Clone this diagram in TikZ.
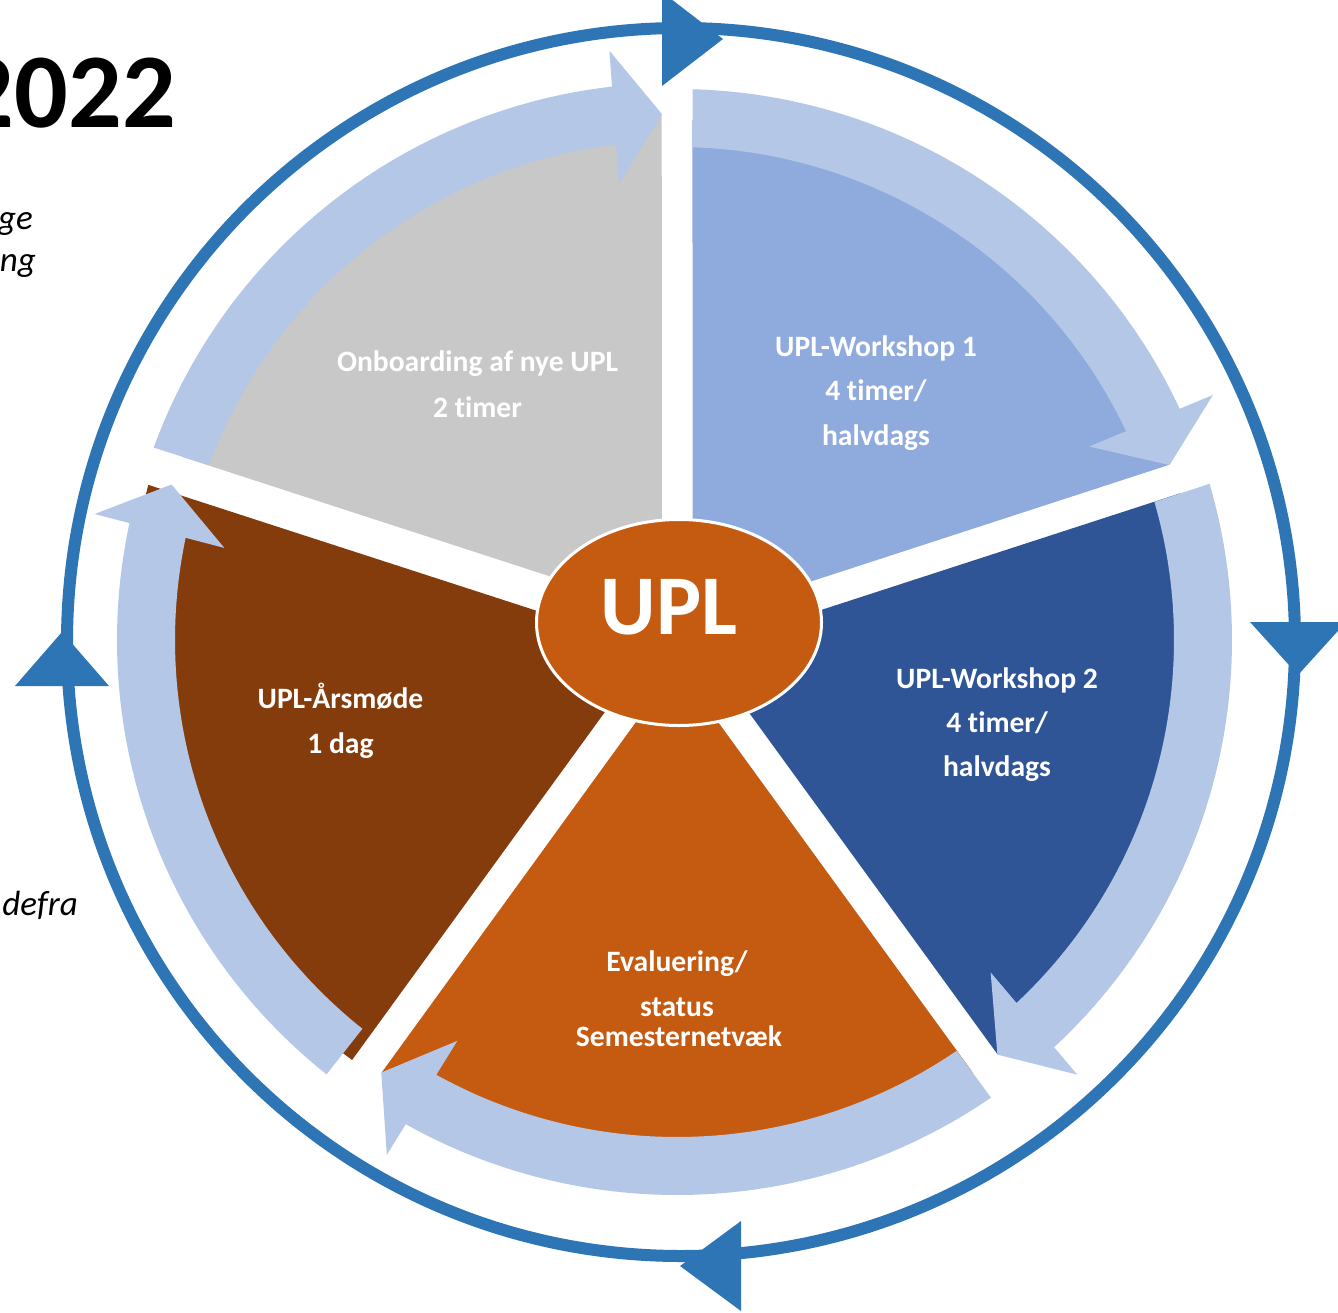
\documentclass[tikz,border=0pt]{standalone}
\usepackage{fontspec}
\setmainfont{Carlito}[Ligatures={NoCommon}]
\usetikzlibrary{calc}
\definecolor{ringblue}{HTML}{2E75B6}
\definecolor{bandblue}{HTML}{B4C7E7}
\definecolor{segA}{HTML}{8FAADC}
\definecolor{segB}{HTML}{2F5597}
\definecolor{segC}{HTML}{C55A11}
\definecolor{segD}{HTML}{843C0C}
\definecolor{segE}{HTML}{C8C8C8}
\def\upRsec{524}\def\upRin{497}\def\upRout{555}\def\upRtip{524}
% sector: cx, cy, a1, a2, offset start, offset end, colour
\newcommand\upsector[7]{%
  \pgfmathsetmacro\upSa{#3+asin(#5/\upRsec)}%
  \pgfmathsetmacro\upSb{#4-asin(#6/\upRsec)}%
  \pgfmathsetmacro\upSai{#3+asin(#5/30)}%
  \pgfmathsetmacro\upSbi{#4-asin(#6/30)}%
  \fill[#7] ({#1+30*cos(\upSai)},{#2+30*sin(\upSai)})
    -- plot[domain=0:1,samples=90] ({#1+\upRsec*cos((\upSa)+\x*((\upSb)-(\upSa)))},{#2+\upRsec*sin((\upSa)+\x*((\upSb)-(\upSa)))})
    -- ({#1+30*cos(\upSbi)},{#2+30*sin(\upSbi)}) -- cycle;
}
% band with arrow head: name, cx, cy, start angle outer, start angle inner, tip angle
\newcommand\upband[6]{%
  \pgfmathsetmacro\upBo{#4}%
  \pgfmathsetmacro\upBi{#5}%
  \pgfmathsetmacro\upBt{#6}%
  \pgfmathsetmacro\upBb{(\upBt)-2*asin(24/\upRtip)}%
  \pgfmathsetmacro\upBe{(\upBb)+0.4}%
  \coordinate (#1T) at ({#2+\upRtip*cos(\upBt)},{#3+\upRtip*sin(\upBt)});
  \coordinate (#1B) at ({#2+\upRtip*cos(\upBb)},{#3+\upRtip*sin(\upBb)});
  \fill[bandblue] plot[domain=0:1,samples=90] ({#2+\upRout*cos((\upBo)+\x*((\upBe)-(\upBo)))},{#3+\upRout*sin((\upBo)+\x*((\upBe)-(\upBo)))})
    -- plot[domain=0:1,samples=90] ({#2+\upRin*cos((\upBe)+\x*((\upBi)-(\upBe)))},{#3+\upRin*sin((\upBe)+\x*((\upBi)-(\upBe)))}) -- cycle;
  \fill[bandblue] ($(#1B)!67pt!90:(#1T)$) -- (#1T) -- ($(#1B)!67pt!-90:(#1T)$) -- cycle;
}
\begin{document}
\begin{tikzpicture}[x=1pt,y=-1pt,
  lbl/.style={anchor=base, inner sep=0pt, text=white, font=\fontsize{29.6}{35}\selectfont\bfseries},
  side/.style={anchor=base east, inner sep=0pt, text=black, font=\fontsize{35}{42}\selectfont\itshape}]
\useasboundingbox (0,0) rectangle (1338,1313);
\clip (0,0) rectangle (1338,1313);
\fill[white] (0,0) rectangle (1338,1313);

% sectors
\upsector{677}{644}{-90}{-18}{15.5}{18}{segA}
\upsector{677}{640}{-18}{54}{16}{15.5}{segB}
\upsector{677}{640}{54}{126}{15}{15}{segC}
\pgfmathsetmacro\upDa{126+asin(16/531)}
\pgfmathsetmacro\upDb{198-asin(15.5/551)}
\pgfmathsetmacro\upDai{126+asin(16/30)}
\pgfmathsetmacro\upDbi{198-asin(15.5/30)}
\fill[segD] ({677+30*cos(\upDai)},{640+30*sin(\upDai)})
  -- plot[domain=0:1,samples=90] ({677+(531+20*\x)*cos((\upDa)+\x*((\upDb)-(\upDa)))},{640+(531+20*\x)*sin((\upDa)+\x*((\upDb)-(\upDa)))})
  -- ({677+30*cos(\upDbi)},{640+30*sin(\upDbi)}) -- cycle;
\upsector{675}{638}{198}{270}{20}{13}{segE}

% bands with arrow heads
\upband{ba}{677}{644}{-90+asin(15.5/555)}{-90+asin(15.5/497)}{-18-asin(18/524)}
\upband{bb}{677}{640}{-18+asin(16/555)}{-18+asin(16/497)}{54-asin(15.5/524)}
\upband{bc}{677}{640}{54+asin(15/555)}{54+asin(15/497)}{126-asin(15/524)}
\upband{bd}{672}{640}{128.5}{128.5}{197.26}
\upband{be}{675}{638}{198+asin(20/555)}{198+asin(20/497)}{270-asin(13/524)}

% centre ellipse
\filldraw[fill=segC, draw=white, line width=3pt] (679,622.5) ellipse[x radius=142.5, y radius=103];
\node[anchor=base, inner sep=0pt, text=white, font=\fontsize{85}{92}\selectfont\bfseries] (upl) at (669,634) {UPL};

% outer ring
\draw[ringblue, line width=12pt] (681,642) circle[radius=614];
\fill[ringblue] (662,-8) -- (723,39) -- (662,86) -- cycle;
\fill[ringblue] (1250,622) -- (1298,675) -- (1346,622) -- cycle;
\fill[ringblue] (741,1221) -- (680,1266) -- (741,1311) -- cycle;
\fill[ringblue] (15,686) -- (62,632) -- (109,686) -- cycle;

% labels
\node[lbl] (onb1) at (477.5,371.7) {Onboarding af nye UPL};
\node[lbl] (onb2) at (477.5,417) {2 timer};
\node[lbl] (wsa1) at (876,356.7) {UPL-Workshop 1};
\node[lbl] (wsa2) at (876,400.5) {4 timer/};
\node[lbl] (wsa3) at (876,445) {halvdags};
\node[lbl] (wsb1) at (997,688.3) {UPL-Workshop 2};
\node[lbl] (wsb2) at (997,732.3) {4 timer/};
\node[lbl] (wsb3) at (997,776.5) {halvdags};
\node[lbl] (aar1) at (340.5,708.3) {UPL-Årsmøde};
\node[lbl] (aar2) at (340.5,753.3) {1 dag};
\node[lbl] (eva1) at (677,971.7) {Evaluering/};
\node[lbl] (eva2) at (677,1016) {status};
\node[lbl] (eva3) at (679,1046.7) {Semesternetvæk};

% side texts
\node[anchor=base east, inner sep=0pt, text=black, font=\fontsize{106}{120}\selectfont\bfseries] (year) at (176,128) {2022};
\node[side] (sa) at (33,230) {ge};
\node[side] (sb) at (36,272) {ng};
\node[side] (sc) at (78,915) {defra};
\end{tikzpicture}
\end{document}
